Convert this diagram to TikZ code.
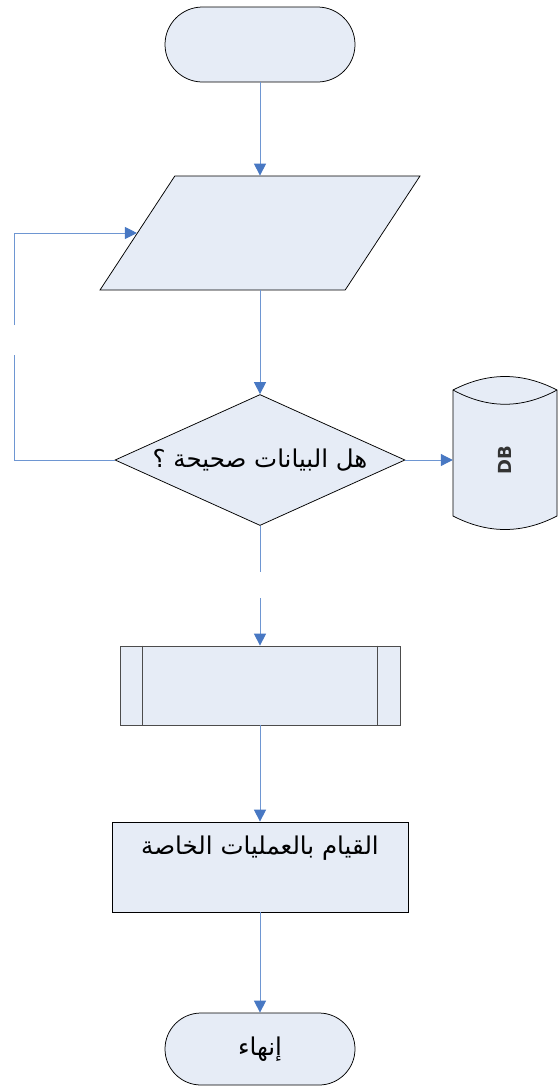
\documentclass[tikz,border=0pt]{standalone}
\usepackage{fontspec}
\newfontfamily\arabicfont[Script=Arabic]{DejaVu Sans}
\newfontfamily\dbfont{DejaVu Sans}
\TeXXeTstate=1
\usetikzlibrary{shapes.geometric,shapes.misc,arrows.meta}

\definecolor{boxfill}{RGB}{230,236,246}
\definecolor{linkblue}{RGB}{110,150,210}
\definecolor{tipblue}{RGB}{72,120,195}

\tikzset{
  box/.style={draw=black,line width=0.75pt,fill=boxfill,inner sep=0pt},
  link/.style={draw=linkblue,line width=1pt},
  flow/.style={link,-{Triangle[width=12pt,length=12pt,color=tipblue]}},
  artext/.style={font=\arabicfont\fontsize{24.5}{28}\selectfont}
}

\begin{document}
\begin{tikzpicture}[x=1pt,y=1pt,yscale=-1,xscale=1]
\useasboundingbox (0,0) rectangle (558,1088);

%Shape: Terminal [id:start]
\node [box,rounded rectangle,minimum width=190pt,minimum height=75pt] (start) at (260,44.5) {};
%Shape: Input [id:in]
\node [box,inner sep=2pt,trapezium,trapezium left angle=66.3,trapezium right angle=113.7,trapezium stretches=true,minimum width=320pt,minimum height=114pt] (in) at (260,233) {};
%Shape: Decision [id:dec]
\node [box,diamond,aspect=2.21,minimum width=290pt,minimum height=131pt,artext] (dec) at (260,460) {\beginR هل البيانات صحيحة ؟\endR};
%Shape: Predefined process [id:sub]
\node [box,draw=black!70,minimum width=280pt,minimum height=79pt] (sub) at (260,685.5) {};
\draw [black!70,line width=0.75pt] ([xshift=23pt]sub.north west) -- ([xshift=23pt]sub.south west) ;
\draw [black!70,line width=0.75pt] ([xshift=-23pt]sub.north east) -- ([xshift=-23pt]sub.south east) ;
%Shape: Process [id:proc]
\node [box,minimum width=296pt,minimum height=90pt] (proc) at (260,867) {};
%Shape: Terminal [id:stop]
\node [box,rounded rectangle,minimum width=190pt,minimum height=72pt,artext] (stop) at (260,1049) {\beginR إنهاء\endR};

%Shape: Data base [id:db]
\draw [line width=0.75pt,fill=boxfill] (453,390) .. controls (488,372) and (522,372) .. (557,390) -- (557,516) .. controls (522,534) and (488,534) .. (453,516) -- cycle ;
\draw [line width=0.75pt] (453,390) .. controls (488,409) and (522,409) .. (557,390) ;
\node [minimum width=104pt,minimum height=126pt,inner sep=0pt] (db) at (505,460) {};

% Text Node
\node [artext] (proctext) at (260,848) {\beginR القيام بالعمليات الخاصة\endR};
% Text Node
\node [font=\dbfont\bfseries\fontsize{18}{18}\selectfont,text=black!80,rotate=90] (dbtext) at (db.center) {DB};

%Free ends of the broken lines
\coordinate (gapA) at (260,572);
\coordinate (gapB) at (260,598);
\coordinate (loopA) at (14,355);
\coordinate (loopB) at (14,325);

%Connectors
\draw [flow] (start) -- (in) ;
\draw [flow] (in) -- (dec) ;
\draw [flow] (dec.east) -- (db.west) ;
\draw [link] (dec.west) -| (loopA) ;
\draw [flow] (loopB) |- (in.left side) ;
\draw [link] (dec) -- (gapA) ;
\draw [flow] (gapB) -- (sub) ;
\draw [flow] (sub) -- (proc) ;
\draw [flow] (proc) -- (stop) ;

\end{tikzpicture}
\end{document}
